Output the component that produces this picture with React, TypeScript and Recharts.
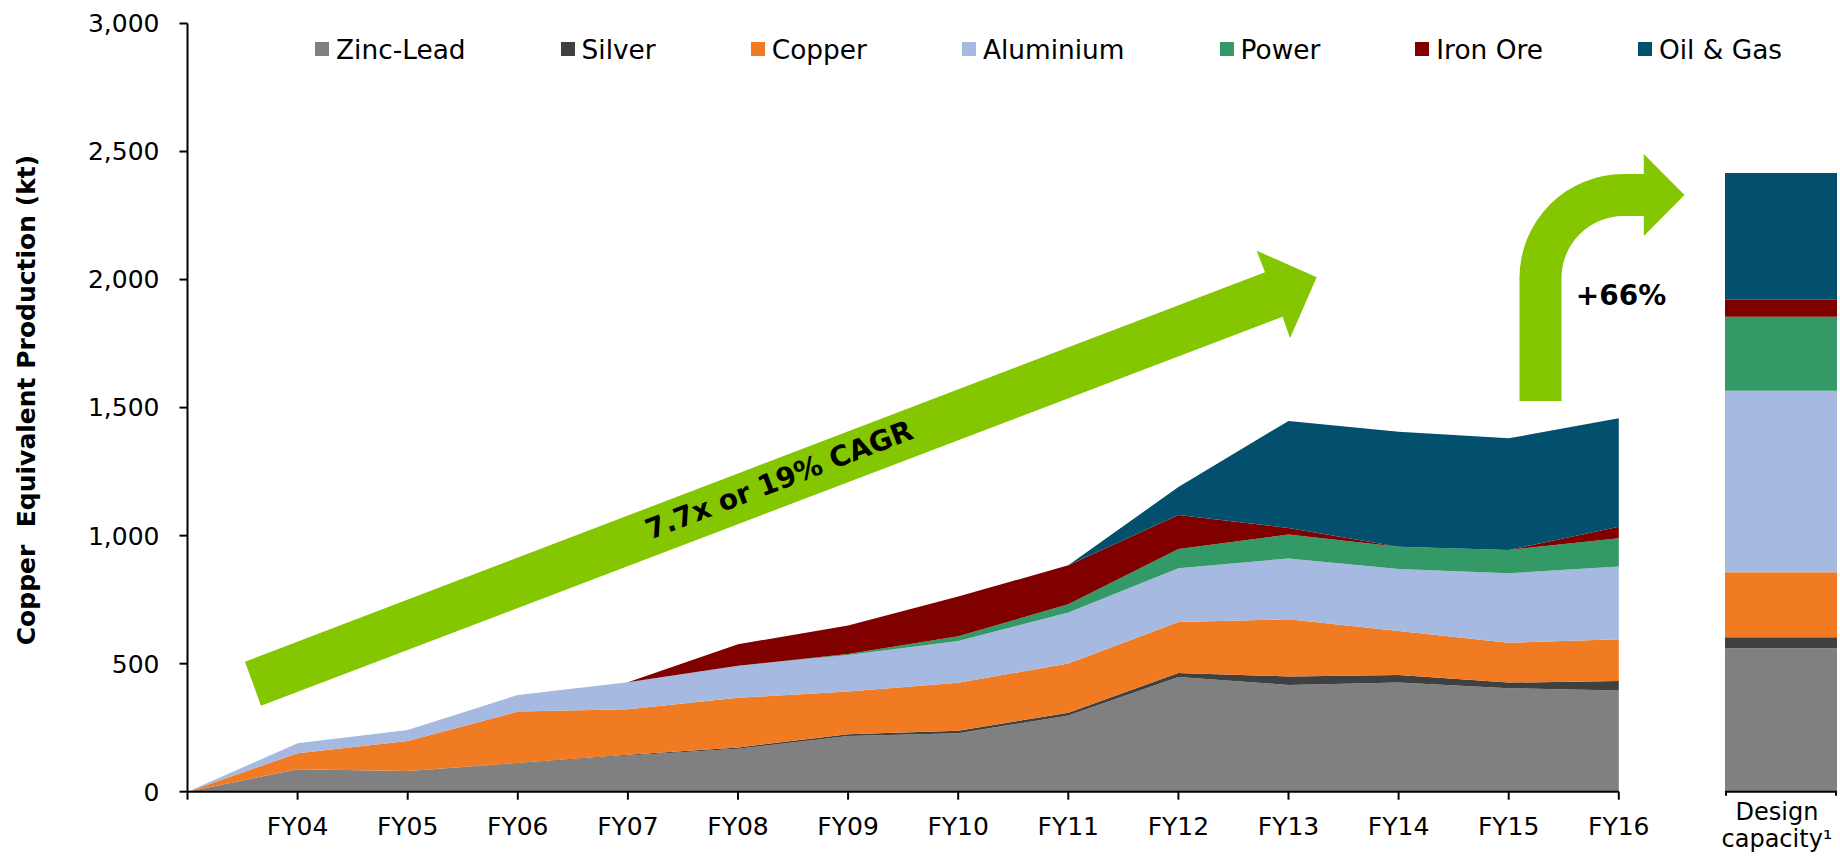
import { AreaChart, Area, BarChart, Bar, XAxis, YAxis } from "recharts";

// Copper equivalent production by business, kt
const years = ["", "FY04", "FY05", "FY06", "FY07", "FY08", "FY09", "FY10", "FY11", "FY12", "FY13", "FY14", "FY15", "FY16"];
const zincLead = [0, 88, 81, 110, 141, 168, 218, 228, 298, 448, 417, 426, 404, 395];
const silver = [0, 0, 0, 2, 3, 5, 6, 10, 10, 16, 33, 30, 22, 37];
const copper = [0, 62, 117, 201, 178, 194, 167, 187, 193, 199, 223, 172, 156, 163];
const aluminium = [0, 39, 43, 65, 105, 125, 143, 164, 199, 210, 238, 242, 271, 284];
const power = [0, 0, 0, 0, 0, 0, 4, 18, 32, 75, 93, 87, 91, 111];
const ironOre = [0, 0, 0, 0, 0, 84, 111, 155, 152, 133, 26, 0, 0, 45];
const oilGas = [0, 0, 0, 0, 0, 0, 0, 0, 0, 109, 418, 449, 436, 423];

// design capacity, same series order
const designCapacity = [560, 43, 254, 709, 289, 66, 495];

const seriesKeys = ["zincLead", "silver", "copper", "aluminium", "power", "ironOre", "oilGas"];
const seriesNames = ["Zinc-Lead", "Silver", "Copper", "Aluminium", "Power", "Iron Ore", "Oil & Gas"];
const seriesColors = ["#808080", "#404040", "#F07B22", "#A6B9E0", "#339966", "#800000", "#02506D"];

const yTicks = [0, 500, 1000, 1500, 2000, 2500, 3000];

const history = [zincLead, silver, copper, aluminium, power, ironOre, oilGas];

const chartData = years.map((year, i) => {
  const row: Record<string, string | number> = { year };
  seriesKeys.forEach((key, s) => {
    row[key] = history[s][i];
  });
  return row;
});

const designData = [
  {
    name: "Design capacity",
    ...Object.fromEntries(seriesKeys.map((key, s) => [key, designCapacity[s]])),
  },
];

const GREEN = "#84C600";
const FONT = "'DejaVu Sans', Verdana, sans-serif";

// two-line category label with short tick marks at both bar edges
function DesignTick({ x, y }: { x: number; y: number }) {
  return (
    <g>
      <line x1={x - 55} y1={y - 8} x2={x - 55} y2={y - 4} stroke="#000" strokeWidth={2} />
      <line x1={x + 55} y1={y - 8} x2={x + 55} y2={y - 4} stroke="#000" strokeWidth={2} />
      <text textAnchor="middle" fontSize={24} fill="#000">
        <tspan x={x - 4} y={y + 20}>
          Design
        </tspan>
        <tspan x={x - 4} y={y + 47}>
          capacity¹
        </tspan>
      </text>
    </g>
  );
}

function Legend() {
  return (
    <div
      style={{
        position: "absolute",
        left: 315,
        top: 34,
        height: 30,
        display: "flex",
        alignItems: "center",
        fontSize: 26.4,
        whiteSpace: "nowrap",
      }}
    >
      {seriesNames.map((name, s) => (
        <div key={name} style={{ display: "flex", alignItems: "center", marginRight: 95 }}>
          <span style={{ width: 14, height: 14, background: seriesColors[s], marginRight: 7 }} />
          <span>{name}</span>
        </div>
      ))}
    </div>
  );
}

function Annotations() {
  return (
    <svg
      width={1840}
      height={857}
      style={{ position: "absolute", left: 0, top: 0, pointerEvents: "none" }}
    >
      <text
        transform="translate(35,400) rotate(-90)"
        textAnchor="middle"
        fontSize={25}
        fontWeight="bold"
        fill="#000"
        style={{ whiteSpace: "pre" }}
      >
        {"Copper  Equivalent Production (kt)"}
      </text>
      <polygon
        points="245,661.7 1265,272.3 1256.7,250.7 1316.7,277.3 1290,338.3 1282.7,316.7 261,705.7"
        fill={GREEN}
      />
      <text
        transform="translate(779,480) rotate(-21)"
        textAnchor="middle"
        dominantBaseline="central"
        fontSize={28}
        fontWeight="bold"
        fill="#000"
      >
        7.7x or 19% CAGR
      </text>
      <path
        d="M1519.5,401 L1519.5,278 A104,104 0 0 1 1623.5,174 L1643.8,174 L1643.8,154 L1684.5,195 L1643.8,236 L1643.8,216 L1623.5,216 A62,62 0 0 0 1561.5,278 L1561.5,401 Z"
        fill={GREEN}
      />
      <text x={1621} y={305} textAnchor="middle" fontSize={28} fontWeight="bold" fill="#000">
        +66%
      </text>
    </svg>
  );
}

export default function App() {
  return (
    <div
      style={{
        position: "absolute",
        left: 0,
        top: 0,
        width: 1840,
        height: 857,
        background: "#fff",
        fontFamily: FONT,
        color: "#000",
      }}
    >
      <div style={{ position: "absolute", left: 0, top: 0 }}>
        <AreaChart
          width={1700}
          height={857}
          data={chartData}
          margin={{ top: 23.5, right: 81.2, bottom: 25.3, left: 87.5 }}
        >
          <XAxis
            dataKey="year"
            interval={0}
            height={40}
            tickSize={8}
            tickMargin={18}
            tick={{ fontSize: 25, fill: "#000" }}
            axisLine={{ stroke: "#000", strokeWidth: 2 }}
            tickLine={{ stroke: "#000", strokeWidth: 2 }}
          />
          <YAxis
            domain={[0, 3000]}
            ticks={yTicks}
            interval={0}
            width={100}
            tickSize={8}
            tickMargin={20}
            tickFormatter={(v: number) => v.toLocaleString("en-US")}
            tick={{ fontSize: 25, fill: "#000" }}
            axisLine={{ stroke: "#000", strokeWidth: 2 }}
            tickLine={{ stroke: "#000", strokeWidth: 2 }}
          />
          {seriesKeys.map((key, s) => (
            <Area
              key={key}
              type="linear"
              dataKey={key}
              name={seriesNames[s]}
              stackId="history"
              stroke="none"
              fill={seriesColors[s]}
              fillOpacity={1}
              isAnimationActive={false}
            />
          ))}
        </AreaChart>
      </div>
      <div style={{ position: "absolute", left: 1680, top: 0 }}>
        <BarChart
          width={160}
          height={857}
          data={designData}
          barCategoryGap={0}
          margin={{ top: 23.5, right: 3, bottom: 25.3, left: 45 }}
        >
          <XAxis
            dataKey="name"
            height={40}
            tickLine={false}
            axisLine={{ stroke: "#000", strokeWidth: 2 }}
            tick={(props: any) => <DesignTick x={props.x} y={props.y} />}
          />
          <YAxis hide domain={[0, 3000]} />
          {seriesKeys.map((key, s) => (
            <Bar
              key={key}
              dataKey={key}
              name={seriesNames[s]}
              stackId="design"
              fill={seriesColors[s]}
              isAnimationActive={false}
            />
          ))}
        </BarChart>
      </div>
      <Legend />
      <Annotations />
    </div>
  );
}
